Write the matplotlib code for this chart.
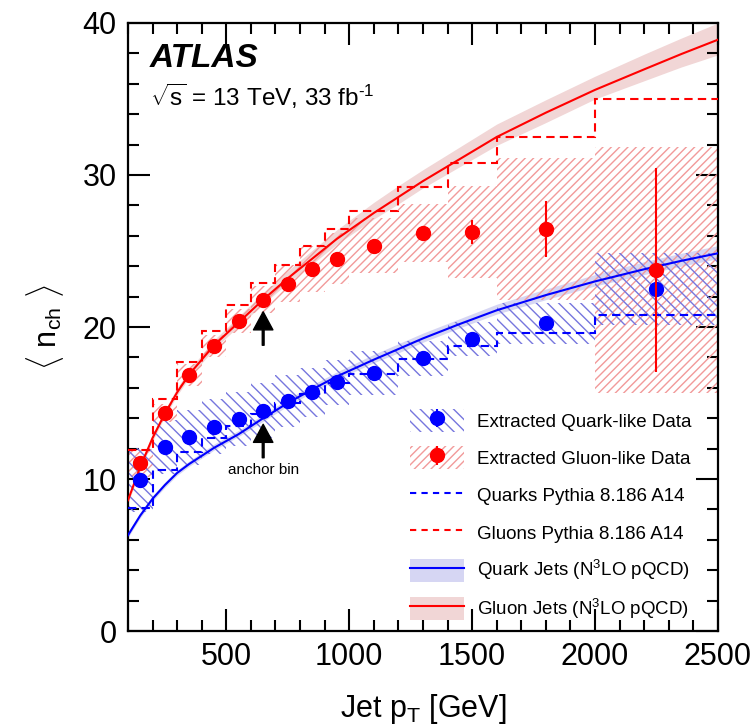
import numpy as np
import matplotlib.pyplot as plt
from matplotlib.patches import Patch
from matplotlib.lines import Line2D
from matplotlib.legend_handler import HandlerTuple

plt.rcParams['font.family'] = ['Liberation Sans', 'DejaVu Sans']
plt.rcParams['mathtext.fontset'] = 'custom'
plt.rcParams['mathtext.rm'] = 'Liberation Sans'
plt.rcParams['mathtext.it'] = 'Liberation Sans:italic'
plt.rcParams['mathtext.bf'] = 'Liberation Sans:bold'
plt.rcParams['hatch.linewidth'] = 1.0

# jet pT binning [GeV]
edges = np.array([100, 200, 300, 400, 500, 600, 700, 800, 900, 1000,
                  1200, 1400, 1600, 2000, 2500])
centres = 0.5 * (edges[1:] + edges[:-1])

# extracted quark-like <n_ch>
quark_nch = [9.95, 12.1, 12.75, 13.45, 13.95, 14.5, 15.15, 15.7, 16.35,
             17.0, 17.95, 19.2, 20.25, 22.5]
quark_stat = [0.1, 0.1, 0.1, 0.1, 0.1, 0.1, 0.1, 0.1, 0.15,
              0.15, 0.2, 0.3, 0.5, 1.6]
quark_syst = [2.1, 1.8, 1.8, 1.8, 1.8, 1.8, 1.7, 1.6, 1.5,
              1.45, 1.15, 1.1, 1.35, 2.4]

# extracted gluon-like <n_ch>
gluon_nch = [11.05, 14.35, 16.85, 18.75, 20.4, 21.8, 22.85, 23.8, 24.5,
             25.35, 26.2, 26.25, 26.45, 23.75]
gluon_stat = [0.1, 0.1, 0.1, 0.1, 0.1, 0.15, 0.15, 0.2, 0.2,
              0.3, 0.4, 0.8, 1.85, 6.7]
gluon_syst = [0.9, 0.6, 0.7, 0.7, 0.8, 0.9, 1.2, 1.5, 1.7,
              1.8, 1.9, 3.0, 4.7, 8.1]

# Pythia 8.186 A14 predictions per bin
pythia_quark = [8.1, 10.6, 11.8, 12.7, 13.5, 14.3, 15.0, 15.6, 16.3,
                16.9, 17.9, 18.75, 19.6, 20.8]
pythia_gluon = [11.9, 15.25, 17.7, 19.75, 21.45, 22.9, 24.1, 25.35, 26.45,
                27.6, 29.2, 30.8, 32.5, 35.0]

# N3LO pQCD curves with uncertainty bands
pt_theory = [100, 150, 200, 250, 300, 350, 450, 550, 650, 750, 850, 950,
             1100, 1200, 1300, 1450, 1600, 1800, 2000, 2200, 2350, 2500]
gluon_theory = [8.6, 10.8, 12.7, 14.3, 15.7, 16.9, 18.8, 20.3, 21.8, 23.2,
                24.5, 25.8, 27.5, 28.55, 29.6, 31.05, 32.5, 34.1, 35.6,
                36.95, 37.95, 38.9]
gluon_theory_lo = [8.4, 10.6, 12.5, 14.1, 15.5, 16.7, 18.55, 20.05, 21.5,
                   22.9, 24.15, 25.45, 27.1, 28.1, 29.15, 30.55, 31.95,
                   33.45, 35.0, 36.2, 37.1, 37.9]
gluon_theory_hi = [8.8, 11.0, 12.95, 14.55, 16.0, 17.2, 19.15, 20.7, 22.25,
                   23.7, 25.05, 26.4, 28.2, 29.3, 30.35, 31.85, 33.35,
                   34.95, 36.5, 37.95, 39.0, 40.0]
quark_theory = [6.3, 7.6, 8.7, 9.6, 10.4, 11.0, 12.05, 12.95, 14.0, 15.0,
                15.9, 16.75, 17.85, 18.55, 19.25, 20.2, 21.1, 22.1, 23.0,
                23.8, 24.35, 24.85]
quark_theory_lo = [6.15, 7.45, 8.55, 9.45, 10.25, 10.85, 11.9, 12.8, 13.8,
                   14.8, 15.7, 16.55, 17.65, 18.3, 19.0, 19.95, 20.85,
                   21.8, 22.7, 23.45, 24.0, 24.5]
quark_theory_hi = [6.5, 7.8, 8.9, 9.8, 10.6, 11.2, 12.3, 13.2, 14.25, 15.25,
                   16.2, 17.05, 18.2, 18.9, 19.6, 20.55, 21.5, 22.5, 23.45,
                   24.3, 24.85, 25.35]

anchor = 5  # index of the 600-700 GeV bin

BLUE = '#0000ff'
RED = '#ff0000'
BLUE_HATCH = '#7676de'
RED_HATCH = '#f29a9a'
BLUE_BAND = '#d6d6f3'
RED_BAND = '#f1d6d6'

fig = plt.figure(figsize=(7.51, 7.27), dpi=100)
ax = fig.add_axes([0.1704, 0.132, 0.7856, 0.8364])

# theory bands + central lines
ax.fill_between(pt_theory, gluon_theory_lo, gluon_theory_hi, color=RED_BAND, lw=0, zorder=1)
ax.fill_between(pt_theory, quark_theory_lo, quark_theory_hi, color=BLUE_BAND, lw=0, zorder=1)

# systematic uncertainties as hatched boxes
widths = np.diff(edges)
g_lo = np.array(gluon_nch) - np.array(gluon_syst)
q_lo = np.array(quark_nch) - np.array(quark_syst)
ax.bar(edges[:-1], 2 * np.array(gluon_syst), bottom=g_lo, width=widths, align='edge',
       fill=False, hatch='////', edgecolor=RED_HATCH, lw=0, zorder=2)
ax.bar(edges[:-1], 2 * np.array(quark_syst), bottom=q_lo, width=widths, align='edge',
       fill=False, hatch='\\\\\\', edgecolor=BLUE_HATCH, lw=0, zorder=2)

# pythia steps
dash = (0, (4, 2.5))
ax.stairs(pythia_quark, edges, baseline=None, color=BLUE, ls=dash, lw=1.5, zorder=3)
ax.stairs(pythia_gluon, edges, baseline=None, color=RED, ls=dash, lw=1.5, zorder=3)

ax.plot(pt_theory, gluon_theory, color=RED, lw=1.5, zorder=4)
ax.plot(pt_theory, quark_theory, color=BLUE, lw=1.5, zorder=4)

# data points
eq = ax.errorbar(centres, quark_nch, yerr=quark_stat, fmt='o', color=BLUE, ms=10,
                 elinewidth=1.5, capsize=0, zorder=5)
eg = ax.errorbar(centres, gluon_nch, yerr=gluon_stat, fmt='o', color=RED, ms=10,
                 elinewidth=1.5, capsize=0, zorder=6)

# anchor bin arrows
arrow_kw = dict(facecolor='black', edgecolor='black', width=1.3, headwidth=14,
                headlength=13, shrink=0)
g_tip = gluon_nch[anchor] - 0.8
q_tip = quark_nch[anchor] - 0.9
ax.annotate('', xy=(centres[anchor], g_tip), xytext=(centres[anchor], g_tip - 2.2),
            arrowprops=arrow_kw, zorder=7)
ax.annotate('', xy=(centres[anchor], q_tip), xytext=(centres[anchor], q_tip - 2.2),
            arrowprops=arrow_kw, zorder=7)
ax.text(centres[anchor], q_tip - 3.0, 'anchor bin', ha='center', va='center', fontsize=11)

ax.set_xlim(100, 2500)
ax.set_ylim(0, 40)
ax.set_xticks([500, 1000, 1500, 2000, 2500])
ax.set_xticks(np.arange(100, 2501, 100), minor=True)
ax.set_yticks([0, 10, 20, 30, 40])
ax.set_yticks(np.arange(0, 41, 2), minor=True)
ax.tick_params(which='both', direction='in', top=True, right=True, width=1.5,
               labelsize=22)
ax.tick_params(which='major', length=16, pad=8)
ax.tick_params(which='minor', length=8)
for s in ax.spines.values():
    s.set_linewidth(1.6)

ax.set_xlabel(r'Jet p$_{\rm T}$ [GeV]', fontsize=22, labelpad=14)
ax.set_ylabel(r'$\langle\ \mathrm{n}_{\rm ch}\ \rangle$', fontsize=22, labelpad=12)

ax.text(0.037, 0.928, 'ATLAS', transform=ax.transAxes, fontsize=24,
        fontweight='bold', fontstyle='italic', va='baseline')
ax.text(0.037, 0.8635, r'$\sqrt{\rm s}$ = 13 TeV, 33 fb$^{\rm \text{-}1}$', transform=ax.transAxes,
        fontsize=17.5, va='baseline')

handles = [
    (Patch(facecolor='none', edgecolor=BLUE_HATCH, hatch='\\\\\\', lw=0), eq),
    (Patch(facecolor='none', edgecolor=RED_HATCH, hatch='////', lw=0), eg),
    Line2D([], [], color=BLUE, ls=(0, (3, 2.5)), lw=1.5),
    Line2D([], [], color=RED, ls=(0, (3, 2.5)), lw=1.5),
    (Patch(facecolor=BLUE_BAND, lw=0), Line2D([], [], color=BLUE, lw=1.5)),
    (Patch(facecolor=RED_BAND, lw=0), Line2D([], [], color=RED, lw=1.5)),
]
labels = ['Extracted Quark-like Data', 'Extracted Gluon-like Data',
          'Quarks Pythia 8.186 A14', 'Gluons Pythia 8.186 A14',
          r'Quark Jets (N$^{\rm 3}$LO pQCD)', r'Gluon Jets (N$^{\rm 3}$LO pQCD)']
ax.legend(handles, labels, loc='upper left', bbox_to_anchor=(0.478, 0.365),
          frameon=False, fontsize=13.5, handlelength=2.9, handleheight=1.5,
          labelspacing=0.77, handletextpad=0.7, borderpad=0, borderaxespad=0,
          handler_map={tuple: HandlerTuple(ndivide=1, pad=0)})

fig.savefig('out.png', dpi=100)
